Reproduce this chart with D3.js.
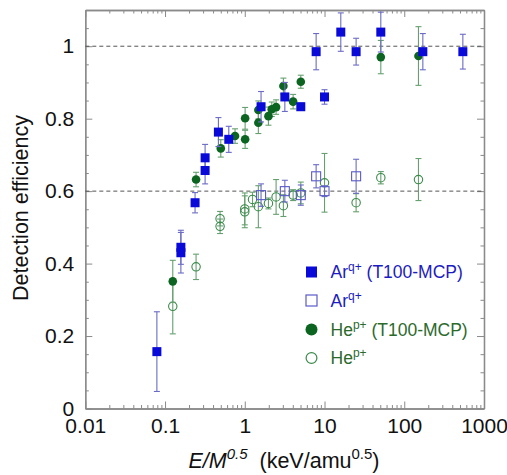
<!DOCTYPE html>
<html>
<head>
<meta charset="utf-8">
<script src="https://cdn.jsdelivr.net/npm/d3@7"></script>
<style>
html,body{margin:0;padding:0;background:#fff;}
svg{display:block;font-family:"Liberation Sans",Arial,sans-serif;}
</style>
</head>
<body>
<svg id="chart" width="507" height="475"></svg>
<script>
// ---- data ----
const xTickValues = [0.01, 0.1, 1, 10, 100, 1000];
const xTickLabels = ["0.01", "0.1", "1", "10", "100", "1000"];
const yTickValues = [0, 0.2, 0.4, 0.6, 0.8, 1];
const yTickLabels = ["0", "0.2", "0.4", "0.6", "0.8", "1"];
const refLines = [1, 0.6];

// Ar q+ (T100-MCP) – filled squares
const arMcpX   = [0.079, 0.158, 0.158, 0.238, 0.318, 0.318, 0.467, 0.63, 1.6, 3.18, 5.04, 7.85, 10, 16, 24.9, 50.8, 171, 543];
const arMcpY   = [0.157, 0.43, 0.445, 0.568, 0.692, 0.657, 0.763, 0.743, 0.833, 0.86, 0.833, 0.985, 0.86, 1.039, 0.985, 1.039, 0.985, 0.985];
const arMcpErr = [0.11, 0.056, 0.047, 0.028, 0.037, 0.037, 0.04, 0.036, 0.042, 0.04, 0.01, 0.05, 0.02, 0.053, 0.037, 0.055, 0.05, 0.048];

// Ar q+ – open squares
const arX   = [1.6, 3.18, 5.04, 7.85, 10, 24.9];
const arY   = [0.589, 0.6, 0.589, 0.641, 0.6, 0.641];
const arErr = [0.031, 0.03, 0.028, 0.032, 0.015, 0.047];

// He p+ (T100-MCP) – filled circles
const heMcpX   = [0.125, 0.245, 0.5, 0.755, 1.01, 1.01, 1.48, 1.48, 1.98, 2.18, 2.47, 3.05, 4.04, 5.04, 50.8, 150.7];
const heMcpY   = [0.351, 0.632, 0.718, 0.752, 0.801, 0.743, 0.824, 0.789, 0.807, 0.826, 0.832, 0.89, 0.847, 0.902, 0.97, 0.973];
const heMcpErr = [0.058, 0.02, 0.024, 0.02, 0.03, 0.025, 0.025, 0.03, 0.025, 0.02, 0.02, 0.022, 0.02, 0.018, 0.046, 0.081];

// He p+ – open circles
const heX   = [0.125, 0.245, 0.49, 0.49, 1.0, 1.0, 1.25, 1.48, 1.98, 2.47, 3.05, 4.04, 5.04, 10, 24.9, 50.8, 150.7];
const heY   = [0.282, 0.391, 0.524, 0.503, 0.551, 0.543, 0.577, 0.557, 0.566, 0.584, 0.56, 0.589, 0.595, 0.623, 0.568, 0.637, 0.632];
const heErr = [0.076, 0.035, 0.02, 0.02, 0.044, 0.044, 0.02, 0.058, 0.015, 0.048, 0.03, 0.015, 0.03, 0.081, 0.025, 0.017, 0.058];

// ---- layout ----
const L = 85.3, R = 484, T = 10, B = 408.5;
const svg = d3.select("#chart");
const x = d3.scaleLog().domain([0.01, 1000]).range([L, R]);
const y = d3.scaleLinear().domain([0, 1.1]).range([B, T]);

const blue = "#0a0ad8", blueBar = "#6b6bc6", blueOpen = "#5a5ac8";
const green = "#0b6420", greenBar = "#66a070", greenOpen = "#3c8a4c";
const frameCol = "#8a8a8a";

// minor tick values
const xMinor = [];
for (let e = -2; e < 3; e++) for (let k = 2; k <= 9; k++) xMinor.push(k * Math.pow(10, e));
const yMinor = d3.range(0, 23).map(i => +(i * 0.05).toFixed(2)).filter(v => yTickValues.indexOf(v) < 0 && v < 1.1);

function styleAxis(g) {
  g.select(".domain").attr("stroke", frameCol).attr("stroke-width", 1.3);
  g.selectAll(".tick line").attr("stroke", frameCol).attr("stroke-width", 1);
  g.selectAll(".tick text").attr("fill", "#111").attr("font-size", "21px")
    .attr("font-family", "'Liberation Sans', Arial, sans-serif");
}

// bottom
svg.append("g").attr("transform", `translate(0,${B})`)
  .call(d3.axisBottom(x).tickValues(xMinor).tickSizeInner(-3.5).tickSizeOuter(0).tickFormat(""))
  .call(styleAxis);
svg.append("g").attr("transform", `translate(0,${B})`)
  .call(d3.axisBottom(x).tickValues(xTickValues).tickSizeInner(-7).tickSizeOuter(0).tickPadding(10)
    .tickFormat((d, i) => xTickLabels[i]))
  .call(styleAxis);
// top
svg.append("g").attr("transform", `translate(0,${T})`)
  .call(d3.axisTop(x).tickValues(xMinor).tickSizeInner(-3.5).tickSizeOuter(0).tickFormat(""))
  .call(styleAxis);
svg.append("g").attr("transform", `translate(0,${T})`)
  .call(d3.axisTop(x).tickValues(xTickValues).tickSizeInner(-7).tickSizeOuter(0).tickFormat(""))
  .call(styleAxis);
// left
svg.append("g").attr("transform", `translate(${L},0)`)
  .call(d3.axisLeft(y).tickValues(yMinor).tickSizeInner(-3.5).tickSizeOuter(0).tickFormat(""))
  .call(styleAxis);
svg.append("g").attr("transform", `translate(${L},0)`)
  .call(d3.axisLeft(y).tickValues(yTickValues).tickSizeInner(-7).tickSizeOuter(0).tickPadding(11)
    .tickFormat((d, i) => yTickLabels[i]))
  .call(styleAxis);
// right
svg.append("g").attr("transform", `translate(${R},0)`)
  .call(d3.axisRight(y).tickValues(yMinor).tickSizeInner(-3.5).tickSizeOuter(0).tickFormat(""))
  .call(styleAxis);
svg.append("g").attr("transform", `translate(${R},0)`)
  .call(d3.axisRight(y).tickValues(yTickValues).tickSizeInner(-7).tickSizeOuter(0).tickFormat(""))
  .call(styleAxis);

// dashed reference lines
svg.append("g").selectAll("line").data(refLines).join("line")
  .attr("x1", L).attr("x2", R).attr("y1", d => y(d)).attr("y2", d => y(d))
  .attr("stroke", "#555").attr("stroke-width", 1).attr("stroke-dasharray", "4,3");

// ---- series ----
function zip(xs, ys, es) { return xs.map((v, i) => ({ x: v, y: ys[i], e: es[i] })); }

function errorBars(data, color) {
  const g = svg.append("g").attr("stroke", color).attr("stroke-width", 1.1).attr("fill", "none");
  data.forEach(d => {
    const x0 = x(d.x), y1 = y(d.y + d.e), y2 = y(d.y - d.e);
    g.append("line").attr("x1", x0).attr("x2", x0).attr("y1", y1).attr("y2", y2);
    g.append("line").attr("x1", x0 - 3).attr("x2", x0 + 3).attr("y1", y1).attr("y2", y1);
    g.append("line").attr("x1", x0 - 3).attr("x2", x0 + 3).attr("y1", y2).attr("y2", y2);
  });
}

const heOpen = zip(heX, heY, heErr);
const arOpen = zip(arX, arY, arErr);
const heFill = zip(heMcpX, heMcpY, heMcpErr);
const arFill = zip(arMcpX, arMcpY, arMcpErr);

errorBars(heOpen, greenBar);
svg.append("g").selectAll("circle").data(heOpen).join("circle")
  .attr("cx", d => x(d.x)).attr("cy", d => y(d.y)).attr("r", 4.2)
  .attr("fill", "none").attr("stroke", greenOpen).attr("stroke-width", 1.1);

errorBars(arOpen, blueBar);
svg.append("g").selectAll("rect").data(arOpen).join("rect")
  .attr("x", d => x(d.x) - 4.5).attr("y", d => y(d.y) - 4.5).attr("width", 9).attr("height", 9)
  .attr("fill", "none").attr("stroke", blueOpen).attr("stroke-width", 1.1);

errorBars(heFill, greenBar);
svg.append("g").selectAll("circle").data(heFill).join("circle")
  .attr("cx", d => x(d.x)).attr("cy", d => y(d.y)).attr("r", 4.3)
  .attr("fill", green);

errorBars(arFill, blueBar);
svg.append("g").selectAll("rect").data(arFill).join("rect")
  .attr("x", d => x(d.x) - 4.5).attr("y", d => y(d.y) - 4.5).attr("width", 9).attr("height", 9)
  .attr("fill", blue);

// ---- legend ----
const leg = svg.append("g").attr("font-size", "17.5px");
const mx = 311.5, tx = 330.5;
const rows = [272, 300.5, 329.5, 358];
leg.append("rect").attr("x", mx - 5.5).attr("y", rows[0] - 5.5).attr("width", 11).attr("height", 11).attr("fill", blue);
leg.append("rect").attr("x", mx - 5.5).attr("y", rows[1] - 5.5).attr("width", 11).attr("height", 11)
  .attr("fill", "none").attr("stroke", blueOpen).attr("stroke-width", 1.2);
leg.append("circle").attr("cx", mx).attr("cy", rows[2]).attr("r", 6).attr("fill", green);
leg.append("circle").attr("cx", mx).attr("cy", rows[3]).attr("r", 5.4).attr("fill", "none")
  .attr("stroke", greenOpen).attr("stroke-width", 1.2);

function legText(yy, base, sup, rest, color) {
  const t = leg.append("text").attr("x", tx).attr("y", yy + 6).attr("fill", color).style("white-space", "pre");
  t.append("tspan").text(base);
  t.append("tspan").attr("dy", -7).attr("font-size", "12px").text(sup);
  if (rest) t.append("tspan").attr("dy", 7).text(rest);
}
legText(rows[0], "Ar", "q+", " (T100-MCP)", "#1c1cc0");
legText(rows[1], "Ar", "q+", null, "#1c1cc0");
legText(rows[2], "He", "p+", " (T100-MCP)", "#2c6a2c");
legText(rows[3], "He", "p+", null, "#2c6a2c");

// ---- axis titles ----
svg.append("text").attr("transform", "translate(28,208) rotate(-90)")
  .attr("text-anchor", "middle").attr("font-size", "21.5px").attr("fill", "#111")
  .text("Detection efficiency");

const xt = svg.append("text").attr("x", 284).attr("y", 468).attr("text-anchor", "middle")
  .attr("font-size", "21.5px").attr("fill", "#111").style("white-space", "pre");
xt.append("tspan").attr("font-style", "italic").text("E/M");
xt.append("tspan").attr("font-style", "italic").attr("font-size", "15px").attr("dy", -9).text("0.5");
xt.append("tspan").attr("dy", 9).text("  (keV/amu");
xt.append("tspan").attr("font-size", "15px").attr("dy", -9).text("0.5");
xt.append("tspan").attr("dy", 9).text(")");
</script>
</body>
</html>
